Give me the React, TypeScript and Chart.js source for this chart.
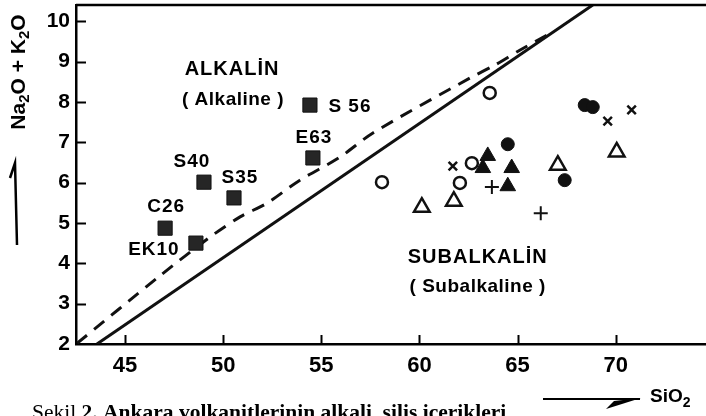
import React, { useEffect, useRef } from 'react';
import { Chart, registerables } from 'chart.js';

Chart.register(...registerables);

// ---- axes ----
const xTickValues = [45, 50, 55, 60, 65, 70];
const yTickValues = [2, 3, 4, 5, 6, 7, 8, 9, 10];
const xRange = [42.5, 74.6];
const yRange = [2, 10.4];

// ---- dividing lines ----
const solidLineSiO2 = [43.57, 68.83];
const solidLineAlk = [2.0, 10.4];
const dashedLineSiO2 = [42.56, 46.83, 49.33, 50.86, 52.23, 53.91, 55.95, 57.63, 62.57, 63.84, 65.11, 66.79];
const dashedLineAlk = [2.02, 3.71, 4.65, 5.15, 5.49, 6.06, 6.63, 7.23, 8.59, 8.91, 9.28, 9.73];

// ---- alkaline samples (labelled squares) ----
const alkalineNames = ['S 56', 'E63', 'S40', 'S35', 'C26', 'EK10'];
const alkalineSiO2 = [54.42, 54.57, 49.02, 50.55, 47.04, 48.61];
const alkalineAlk = [7.92, 6.61, 6.01, 5.62, 4.87, 4.5];

// ---- subalkaline samples ----
const openCircleSiO2 = [63.58, 62.67, 62.06, 58.09];
const openCircleAlk = [8.22, 6.48, 5.99, 6.01];
const filledCircleSiO2 = [64.5, 67.4, 68.42, 68.83];
const filledCircleAlk = [6.95, 6.06, 7.92, 7.87];
const crossSiO2 = [61.7, 69.59, 70.81];
const crossAlk = [6.41, 7.52, 7.8];
const plusSiO2 = [63.69, 66.18];
const plusAlk = [5.89, 5.24];
const filledTriSiO2 = [63.48, 63.23, 64.7, 64.5];
const filledTriAlk = [6.66, 6.36, 6.36, 5.91];
const openTriSiO2 = [60.12, 61.75, 67.05, 70.05];
const openTriAlk = [5.39, 5.54, 6.43, 6.76];

// ---- texts ----
const regionTexts = ['ALKALİN', '( Alkaline )', 'SUBALKALİN', '( Subalkaline )'];
const regionSiO2 = [50.45, 50.5, 62.97, 62.97];
const regionAlk = [8.79, 8.04, 4.15, 3.41];
const captionRegular = 'Şekil ';
const captionBold = '2. Ankara volkanitlerinin alkali, silis içerikleri';

// label offsets (px) of sample names relative to their squares
const labelOffsets: [number, number][] = [[40, 2], [1, -20], [-12, -20], [6, -20], [1, -21], [-42, 7]];

const SANS = '"Liberation Sans", Arial, sans-serif';
const SERIF = '"Liberation Serif", "Times New Roman", serif';

const zip = (xs: number[], ys: number[]) => xs.map((x, i) => ({ x, y: ys[i] }));

const overlayPlugin = {
  id: 'overlay',
  afterDraw(chart: any) {
    const { ctx, chartArea, scales } = chart;
    const { left, right, top, bottom } = chartArea;
    const xs = scales.x;
    const ys = scales.y;
    ctx.save();
    ctx.strokeStyle = '#000';
    ctx.fillStyle = '#000';
    ctx.lineCap = 'butt';

    // top border
    ctx.lineWidth = 2.5;
    ctx.beginPath();
    ctx.moveTo(left, top);
    ctx.lineTo(right, top);
    ctx.stroke();

    // inward tick marks
    ctx.lineWidth = 2;
    yTickValues.filter((v) => v > yRange[0]).forEach((v) => {
      const py = Math.round(ys.getPixelForValue(v)) + 0.5;
      ctx.beginPath();
      ctx.moveTo(left, py);
      ctx.lineTo(left + 10, py);
      ctx.stroke();
    });
    xTickValues.forEach((v) => {
      const px = Math.round(xs.getPixelForValue(v)) + 0.5;
      ctx.beginPath();
      ctx.moveTo(px, bottom);
      ctx.lineTo(px, bottom - 9);
      ctx.stroke();
    });

    // sample labels
    ctx.font = `bold 19px ${SANS}`;
    (ctx as any).letterSpacing = '1px';
    ctx.textAlign = 'center';
    ctx.textBaseline = 'middle';
    alkalineNames.forEach((name, i) => {
      const px = xs.getPixelForValue(alkalineSiO2[i]) + labelOffsets[i][0];
      const py = ys.getPixelForValue(alkalineAlk[i]) + labelOffsets[i][1];
      ctx.fillText(name, px, py);
    });

    // region texts
    regionTexts.forEach((t, i) => {
      const isTitle = i % 2 === 0;
      ctx.font = `bold ${isTitle ? 20 : 19}px ${SANS}`;
      (ctx as any).letterSpacing = isTitle ? '1px' : '0.5px';
      ctx.fillText(t, xs.getPixelForValue(regionSiO2[i]), ys.getPixelForValue(regionAlk[i]));
    });
    (ctx as any).letterSpacing = '0px';

    // y axis title (rotated) with subscripts
    const runs: [string, boolean][] = [['Na', false], ['2', true], ['O + K', false], ['2', true], ['O', false]];
    ctx.save();
    ctx.translate(17, 72);
    ctx.rotate(-Math.PI / 2);
    ctx.textAlign = 'left';
    ctx.textBaseline = 'alphabetic';
    let total = 0;
    runs.forEach(([t, sub]) => {
      ctx.font = `bold ${sub ? 15 : 21}px ${SANS}`;
      total += ctx.measureText(t).width;
    });
    let cx = -total / 2;
    runs.forEach(([t, sub]) => {
      ctx.font = `bold ${sub ? 15 : 21}px ${SANS}`;
      ctx.fillText(t, cx, sub ? 12 : 7.5);
      cx += ctx.measureText(t).width;
    });
    ctx.restore();

    // y axis arrow
    ctx.lineWidth = 2.5;
    ctx.beginPath();
    ctx.moveTo(17, 245);
    ctx.lineTo(15, 163);
    ctx.lineTo(10, 178);
    ctx.stroke();

    // x axis title arrow + SiO2
    ctx.lineWidth = 1.8;
    ctx.beginPath();
    ctx.moveTo(543, 399);
    ctx.lineTo(640, 399);
    ctx.stroke();
    ctx.beginPath();
    ctx.moveTo(641, 398);
    ctx.lineTo(606, 409);
    ctx.lineTo(614, 401);
    ctx.closePath();
    ctx.fill();
    ctx.textAlign = 'left';
    ctx.textBaseline = 'alphabetic';
    ctx.font = `bold 19px ${SANS}`;
    ctx.fillText('SiO', 650, 402);
    const w = ctx.measureText('SiO').width;
    ctx.font = `bold 14px ${SANS}`;
    ctx.fillText('2', 650 + w, 407);

    // caption (cut off by the bottom edge)
    ctx.font = `21.5px ${SERIF}`;
    ctx.fillText(captionRegular, 32, 419);
    const w2 = ctx.measureText(captionRegular).width;
    ctx.font = `bold 21.5px ${SERIF}`;
    ctx.fillText(captionBold, 32 + w2, 419);

    ctx.restore();
  },
};

export default function App() {
  const canvasRef = useRef<HTMLCanvasElement | null>(null);

  useEffect(() => {
    document.body.style.margin = '0';
    document.body.style.background = '#fff';
    const canvas = canvasRef.current;
    if (!canvas) return;
    const black = '#111';
    const chart = new Chart(canvas, {
      type: 'scatter',
      data: {
        datasets: [
          {
            label: 'alkaline',
            data: zip(alkalineSiO2, alkalineAlk),
            pointStyle: 'rect',
            pointRadius: 10,
            backgroundColor: '#262626',
            borderColor: '#111',
            borderWidth: 1,
          },
          {
            label: 'open circle',
            data: zip(openCircleSiO2, openCircleAlk),
            pointStyle: 'circle',
            pointRadius: 6,
            backgroundColor: '#fff',
            borderColor: black,
            borderWidth: 2.5,
          },
          {
            label: 'filled circle',
            data: zip(filledCircleSiO2, filledCircleAlk),
            pointStyle: 'circle',
            pointRadius: 6.5,
            backgroundColor: black,
            borderColor: black,
            borderWidth: 1,
          },
          {
            label: 'cross',
            data: zip(crossSiO2, crossAlk),
            pointStyle: 'crossRot',
            pointRadius: 6,
            borderColor: black,
            borderWidth: 2.5,
          },
          {
            label: 'plus',
            data: zip(plusSiO2, plusAlk),
            pointStyle: 'cross',
            pointRadius: 7,
            borderColor: black,
            borderWidth: 2,
          },
          {
            label: 'filled triangle',
            data: zip(filledTriSiO2, filledTriAlk),
            pointStyle: 'triangle',
            pointRadius: 9,
            backgroundColor: black,
            borderColor: black,
            borderWidth: 1,
          },
          {
            label: 'open triangle',
            data: zip(openTriSiO2, openTriAlk),
            pointStyle: 'triangle',
            pointRadius: 9,
            backgroundColor: '#fff',
            borderColor: black,
            borderWidth: 2.5,
          },
          {
            label: 'solid divider',
            data: zip(solidLineSiO2, solidLineAlk),
            showLine: true,
            pointRadius: 0,
            borderColor: black,
            borderWidth: 3,
            fill: false,
            tension: 0,
          },
          {
            label: 'dashed divider',
            data: zip(dashedLineSiO2, dashedLineAlk),
            showLine: true,
            pointRadius: 0,
            borderColor: black,
            borderWidth: 3,
            borderDash: [13, 9],
            fill: false,
            tension: 0.3,
          },
        ] as any,
      },
      options: {
        responsive: false,
        maintainAspectRatio: false,
        animation: false,
        devicePixelRatio: 1,
        layout: { autoPadding: false, padding: { top: 5, left: 0, right: 0, bottom: 0 } },
        plugins: {
          legend: { display: false },
          tooltip: { enabled: false },
        },
        scales: {
          x: {
            type: 'linear',
            min: xRange[0],
            max: xRange[1],
            afterBuildTicks: (s: any) => {
              s.ticks = xTickValues.map((v) => ({ value: v }));
            },
            afterFit: (s: any) => {
              s.height = 72;
              s.paddingLeft = 0;
              s.paddingRight = 0;
            },
            grid: { display: false, drawTicks: false },
            border: { display: true, color: '#000', width: 2.5 },
            ticks: {
              color: '#000',
              padding: 9,
              font: { family: SANS, size: 22, weight: 'bold' },
            },
          },
          y: {
            type: 'linear',
            min: yRange[0],
            max: yRange[1],
            afterBuildTicks: (s: any) => {
              s.ticks = yTickValues.map((v) => ({ value: v }));
            },
            afterFit: (s: any) => {
              s.width = 76;
              s.paddingTop = 0;
              s.paddingBottom = 0;
            },
            grid: { display: false, drawTicks: false },
            border: { display: true, color: '#000', width: 2.5 },
            ticks: {
              color: '#000',
              padding: 6,
              font: { family: SANS, size: 21, weight: 'bold' },
            },
          },
        },
      } as any,
      plugins: [overlayPlugin],
    });
    return () => chart.destroy();
  }, []);

  return (
    <div style={{ width: 706, height: 416, background: '#fff' }}>
      <canvas ref={canvasRef} width={706} height={416} style={{ display: 'block' }} />
    </div>
  );
}
